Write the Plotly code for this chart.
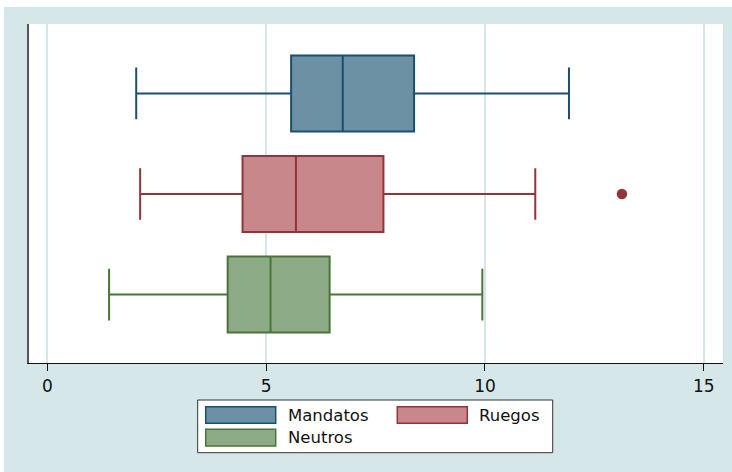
import plotly.graph_objects as go

# Five-number summaries per group (horizontal box plot)
groups = ["Mandatos", "Ruegos", "Neutros"]
lower_whisker = [2.03, 2.12, 1.41]
q1 = [5.57, 4.46, 4.12]
median = [6.75, 5.68, 5.10]
q3 = [8.38, 7.68, 6.45]
upper_whisker = [11.92, 11.15, 9.94]

# Points beyond the whiskers
outlier_group = ["Ruegos"]
outlier_value = [13.13]

x_ticks = [0, 5, 10, 15]

fill_colors = ["#6c91a4", "#c8878a", "#8dab86"]
line_colors = ["#1a4f6f", "#90353b", "#4a7538"]

FONT = "DejaVu Sans, Liberation Sans, Arial"
BG = "#d6e7e9"
W, H = 732, 472
ML, MR, MT, MB = 29, 9, 24, 109
PW, PH = W - ML - MR, H - MT - MB


def px_x(p):
    return (p - ML) / PW


def px_y(p):
    return (H - MB - p) / PH


fig = go.Figure()

positions = {g: i for i, g in enumerate(groups)}

for i, g in enumerate(groups):
    fig.add_trace(go.Box(
        y=[positions[g]],
        orientation="h",
        q1=[q1[i]], median=[median[i]], q3=[q3[i]],
        lowerfence=[lower_whisker[i]], upperfence=[upper_whisker[i]],
        boxpoints=False,
        width=0.756,
        whiskerwidth=0.68,
        fillcolor=fill_colors[i],
        line=dict(color=line_colors[i], width=2),
        name=g,
        showlegend=False,
        hoverinfo="skip",
    ))

for g, v in zip(outlier_group, outlier_value):
    i = groups.index(g)
    fig.add_trace(go.Scatter(
        x=[v], y=[positions[g]], mode="markers",
        marker=dict(symbol="circle", size=10.5, color=line_colors[i]),
        showlegend=False, hoverinfo="skip",
    ))

shapes = [
    # white strips at the top and left edges of the canvas
    dict(type="rect", xref="paper", yref="paper", x0=px_x(0), x1=px_x(W),
         y0=px_y(7), y1=px_y(-2), fillcolor="white", line=dict(width=0), layer="above"),
    dict(type="rect", xref="paper", yref="paper", x0=px_x(-2), x1=px_x(4),
         y0=px_y(H + 2), y1=px_y(-2), fillcolor="white", line=dict(width=0), layer="above"),
    # legend frame
    dict(type="rect", xref="paper", yref="paper", x0=px_x(197.7), x1=px_x(552.7),
         y0=px_y(452.7), y1=px_y(400), fillcolor="white",
         line=dict(color="#333333", width=1)),
]

annotations = []
legend_slots = [(205.7, 406.7), (397.3, 406.7), (205.7, 429.3)]
for i, g in enumerate(groups):
    sx, sy = legend_slots[i]
    shapes.append(dict(type="rect", xref="paper", yref="paper",
                       x0=px_x(sx), x1=px_x(sx + 70), y0=px_y(sy + 16.6), y1=px_y(sy),
                       fillcolor=fill_colors[i], line=dict(color=line_colors[i], width=1.5)))
    annotations.append(dict(xref="paper", yref="paper", x=px_x(sx + 80), y=px_y(sy + 8.6),
                            text=g, showarrow=False, xanchor="left", yanchor="middle",
                            font=dict(family=FONT, size=16.5, color="#111111")))

fig.update_layout(
    width=W, height=H,
    margin=dict(l=ML, r=MR, t=MT, b=MB, pad=0),
    paper_bgcolor=BG,
    plot_bgcolor="white",
    shapes=shapes,
    annotations=annotations,
    showlegend=False,
    xaxis=dict(
        range=[-0.42, 15.44],
        tickvals=x_ticks,
        ticktext=[str(t) for t in x_ticks],
        ticks="outside", ticklen=7, tickwidth=1, tickcolor="#111111",
        showgrid=True, gridcolor="#d3e6e8", gridwidth=1.5,
        zeroline=False,
        showline=True, linecolor="#111111", linewidth=1.3,
        tickfont=dict(family=FONT, size=17, color="#111111"),
        fixedrange=True,
    ),
    yaxis=dict(
        range=[2.68, -0.69],
        showticklabels=False, ticks="",
        showgrid=False, zeroline=False,
        showline=True, linecolor="#555555", linewidth=1.5,
        fixedrange=True,
    ),
)

fig.write_html("out.html")
